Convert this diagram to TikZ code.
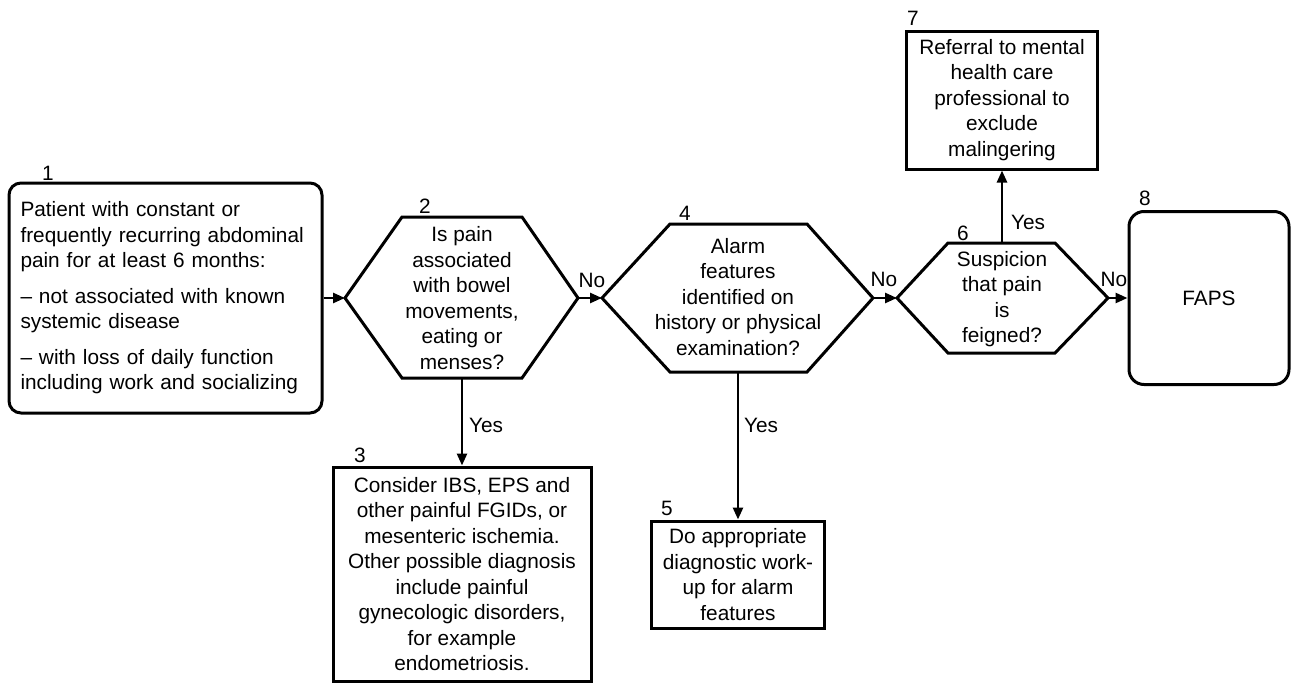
\documentclass[tikz,border=0pt]{standalone}
\usepackage{fontspec}
\setmainfont{Liberation Sans}
\usetikzlibrary{arrows.meta}

\tikzset{
  box/.style={draw,line width=3pt,inner sep=0pt,align=center},
  hexline/.style={line width=3pt,line join=miter},
  flow/.style={->,line width=2.6pt},
  num/.style={inner sep=0pt},
  lbl/.style={inner sep=0pt}
}

\begin{document}
\begin{tikzpicture}[x=1pt,y=-1pt,>={Triangle[length=12pt,width=10pt]},
  every node/.append style={font=\fontsize{20.8}{25.5}\selectfont}]
\useasboundingbox (0,0) rectangle (1291,683);

\node (patient) at (165.5,298) [box,rounded corners=12pt,minimum width=313pt,minimum height=230pt,text width=290pt,align=left]
  {Patient with constant or\\frequently recurring abdominal\\pain for at least 6 months:\\[10pt]
   -- not associated with known\\systemic disease\\[10pt]
   -- with loss of daily function\\including work and socializing};

% decision 2
\node (painq) at (462,298) [align=center] {Is pain\\associated\\with bowel\\movements,\\eating or\\menses?};
\draw [hexline] (345,298) coordinate (painqw) -- (402,217) -- (522,217) -- (578,298) coordinate (painqe)
  -- (522,378) -- (402,378) -- cycle;
\coordinate (painqs) at (462,378);

% decision 4
\node (alarmq) at (738,297) [align=center] {Alarm\\features\\identified on\\history or physical\\examination?};
\draw [hexline] (602,298) coordinate (alarmqw) -- (670,224) -- (807,224) -- (873,298) coordinate (alarmqe)
  -- (807,372) -- (670,372) -- cycle;
\coordinate (alarmqs) at (738,372);

% decision 6
\node (feignq) at (1002,299) [align=center] {Suspicion\\that pain\\is\\feigned?};
\draw [hexline] (897,298) coordinate (feignqw) -- (948,243) -- (1055,243) -- (1108,298) coordinate (feignqe)
  -- (1055,353) -- (948,353) -- cycle;
\coordinate (feignqn) at (1002,243);

\node (consider) at (462,574) [box,minimum width=258pt,minimum height=214pt]
  {Consider IBS, EPS and\\other painful FGIDs, or\\mesenteric ischemia.\\Other possible diagnosis\\include painful\\gynecologic disorders,\\for example\\endometriosis.};
\node (workup) at (738,574.5) [box,minimum width=173pt,minimum height=107pt]
  {Do appropriate\\diagnostic work-\\up for alarm\\features};
\node (referral) at (1002,100) [box,minimum width=191pt,minimum height=138pt]
  {Referral to mental\\health care\\professional to\\exclude\\malingering};
\node (faps) at (1209,298) [box,rounded corners=15pt,minimum width=160pt,minimum height=173pt] {FAPS};

\node (n1) at (48,173) [num] {1};
\node (n2) at (425,206) [num] {2};
\node (n3) at (360,455) [num] {3};
\node (n4) at (685,213) [num] {4};
\node (n5) at (667,508) [num] {5};
\node (n6) at (963,233) [num] {6};
\node (n7) at (913,18) [num] {7};
\node (n8) at (1145,198) [num] {8};

\node (no2) at (592,280) [lbl] {No};
\node (no4) at (884,279) [lbl] {No};
\node (no6) at (1114,279) [lbl] {No};
\node (yes2) at (486,425) [lbl] {Yes};
\node (yes4) at (761,425) [lbl] {Yes};
\node (yes6) at (1028,222) [lbl] {Yes};

\draw [flow] (patient) -- (painqw);
\draw [flow] (painqe) -- (alarmqw);
\draw [flow] (alarmqe) -- (feignqw);
\draw [flow] (feignqe) -- (faps);
\draw [flow] (painqs) -- (consider);
\draw [flow] (alarmqs) -- (workup);
\draw [flow] (feignqn) -- (referral);
\end{tikzpicture}
\end{document}
